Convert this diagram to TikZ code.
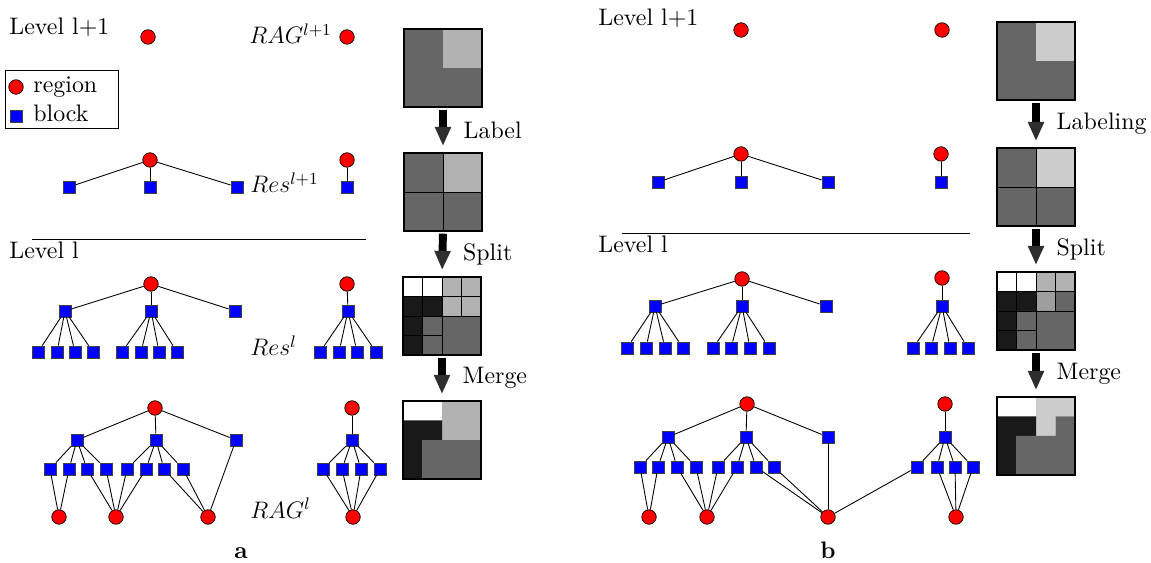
\RequirePackage{fix-cm}
\documentclass[tikz,border=0pt]{standalone}
\usepackage{fontspec}
\setmainfont{lmroman10-regular}[Extension=.otf, BoldFont=lmroman10-bold, ItalicFont=lmroman10-italic]
\usetikzlibrary{arrows.meta}
\definecolor{imgblack}{gray}{0.1}
\definecolor{imgdark}{gray}{0.4}
\definecolor{imgmid}{gray}{0.62}
\definecolor{imglight}{gray}{0.7}
\definecolor{imglighter}{gray}{0.8}
\tikzset{
  region/.style={draw, circle, fill=red, inner sep=0pt, minimum size=0.29cm, line width=0.4pt},
  block/.style={draw=black!75, rectangle, fill=blue, inner sep=0pt, minimum size=0.24cm, line width=0.4pt},
  lbl/.style={inner sep=0pt, anchor=base west},
  picframe/.style={draw, rectangle, inner sep=0pt, minimum size=1.56cm, line width=0.7pt},
  bigarrow/.style={line width=4.5pt, shorten <=1.2pt, shorten >=4pt,
    -{Triangle[length=10.5pt, width=9.5pt, line width=0pt, color=black!82]}},
  steplabel/.style={inner sep=0pt, anchor=west, xshift=9.5pt}
}
\begin{document}
\begin{tikzpicture}[x=0.02cm, y=-0.02cm, line width=0.5pt, font=\fontsize{13.6}{16}\selectfont]
  \useasboundingbox (0,0) rectangle (1151,563);

  % ---- a ----
  \node (ALevelTop) [lbl] at (9,35) {Level l+1};
  \node (ARagTop) [lbl] at (249,44) {$RAG^{l+1}$};
  \node (A0) [region] at (148,37) {};
  \node (A0r) [region] at (347,37) {};

  % legend
  \draw (5,70) rectangle (118,128);
  \node (LegRegion) [region] at (16,87) {};
  \node (LegRegionTxt) [lbl] at (33,93) {region};
  \node (LegBlock) [block] at (16,116) {};
  \node (LegBlockTxt) [lbl] at (33,122) {block};

  % Res^{l+1}
  \node (AResTop) [lbl] at (250,193) {$Res^{l+1}$};
  \node (A1) [region] at (150,160) {};
  \foreach \x [count=\i] in {69,150,237} {
    \node (A1-\i) [block] at (\x,187) {};
    \draw (A1) -- (A1-\i);
  }
  \node (A1r) [region] at (347,160) {};
  \node (A1r-s) [block] at (347,187) {};
  \draw (A1r) -- (A1r-s);

  \draw (32,239) -- (366,239);
  \node (ALevel) [lbl] at (9,259) {Level l};

  % Res^l
  \node (ARes) [lbl] at (250,356) {$Res^{l}$};
  \node (A2) [region] at (151,284) {};
  \foreach \x [count=\i] in {65,151,235} {
    \node (A2-\i) [block] at (\x,311) {};
    \draw (A2) -- (A2-\i);
  }
  \foreach \x [count=\j] in {38,57,75,93} {
    \node (A2-1-\j) [block] at (\x,352) {};
    \draw (A2-1) -- (A2-1-\j);
  }
  \foreach \x [count=\j] in {122,141,159,177} {
    \node (A2-2-\j) [block] at (\x,352) {};
    \draw (A2-2) -- (A2-2-\j);
  }
  \node (A2r) [region] at (347,284) {};
  \node (A2r-s) [block] at (348,311) {};
  \draw (A2r) -- (A2r-s);
  \foreach \x [count=\j] in {320,339,357,376} {
    \node (A2r-\j) [block] at (\x,352) {};
    \draw (A2r-s) -- (A2r-\j);
  }

  % RAG^l
  \node (ARag) [lbl] at (250,518) {$RAG^{l}$};
  \node (A3) [region] at (155,408) {};
  \foreach \x [count=\i] in {77,156,236} {
    \node (A3-\i) [block] at (\x,440) {};
    \draw (A3) -- (A3-\i);
  }
  \foreach \x [count=\j] in {50,69,87,106} {
    \node (A3-1-\j) [block] at (\x,469) {};
    \draw (A3-1) -- (A3-1-\j);
  }
  \foreach \x [count=\j] in {127,146,164,183} {
    \node (A3-2-\j) [block] at (\x,469) {};
    \draw (A3-2) -- (A3-2-\j);
  }
  \node (A3-x) [region] at (59,517) {};
  \node (A3-y) [region] at (116,517) {};
  \node (A3-z) [region] at (208,517) {};
  \foreach \n in {A3-1-1,A3-1-2} \draw (\n) -- (A3-x);
  \foreach \n in {A3-1-3,A3-1-4,A3-2-1,A3-2-2} \draw (\n) -- (A3-y);
  \foreach \n in {A3-2-3,A3-2-4,A3-3} \draw (\n) -- (A3-z);
  \node (A3r) [region] at (352,408) {};
  \node (A3r-s) [block] at (352,440) {};
  \node (A3r-x) [region] at (353,517) {};
  \draw (A3r) -- (A3r-s);
  \foreach \x [count=\j] in {323,342,361,380} {
    \node (A3r-\j) [block] at (\x,469) {};
    \draw (A3r-s) -- (A3r-\j);
    \draw (A3r-\j) -- (A3r-x);
  }
  \node (ATag) [anchor=base] at (241,558) {\textbf{a}};

  % images a
  \begin{scope}[shift={(404,29)}, x=0.39cm, y=-0.39cm]
    \fill[imgdark] (0,0) rectangle (4,4);
    \fill[imglight] (2,0) rectangle (4,2);
    \node (ImgA1) [picframe] at (2,2) {};
  \end{scope}
  \begin{scope}[shift={(404,153)}, x=0.39cm, y=-0.39cm]
    \fill[imgdark] (0,0) rectangle (4,4);
    \fill[imglight] (2,0) rectangle (4,2);
    \draw (2,0) -- (2,4) (0,2) -- (4,2);
    \node (ImgA2) [picframe] at (2,2) {};
  \end{scope}
  \begin{scope}[shift={(403,277)}, x=0.39cm, y=-0.39cm]
    \fill[white] (0,0) rectangle (2,1);
    \fill[imglight] (2,0) rectangle (4,2);
    \fill[imgblack] (0,1) rectangle (2,2) (0,2) rectangle (1,4);
    \fill[imgdark] (1,2) rectangle (4,4);
    \foreach \k in {1,3} \draw (\k,0) -- (\k,2);
    \draw (1,2) -- (1,4) (2,0) -- (2,4) (0,1) -- (4,1) (0,2) -- (4,2) (0,3) -- (2,3);
    \node (ImgA3) [picframe] at (2,2) {};
  \end{scope}
  \begin{scope}[shift={(403,401)}, x=0.39cm, y=-0.39cm]
    \fill[white] (0,0) rectangle (2,1);
    \fill[imglight] (2,0) rectangle (4,2);
    \fill[imgblack] (0,1) rectangle (2,2) (0,2) rectangle (1,4);
    \fill[imgdark] (1,2) rectangle (4,4);
    \node (ImgA4) [picframe] at (2,2) {};
  \end{scope}
  \draw[bigarrow] (ImgA1.south) -- (ImgA2.north) node[steplabel, midway] {Label};
  \draw[bigarrow] (ImgA2.south) -- (ImgA3.north) node[steplabel, midway] {Split};
  \draw[bigarrow] (ImgA3.south) -- (ImgA4.north) node[steplabel, midway] {Merge};

  % ---- b ----
  \node (BLevelTop) [lbl] at (598,26) {Level l+1};
  \node (B0) [region] at (741,30) {};
  \node (B0r) [region] at (942,30) {};

  \node (B1) [region] at (741,154) {};
  \foreach \x [count=\i] in {658,741,828} {
    \node (B1-\i) [block] at (\x,182) {};
    \draw (B1) -- (B1-\i);
  }
  \node (B1r) [region] at (941,154) {};
  \node (B1r-s) [block] at (941,182) {};
  \draw (B1r) -- (B1r-s);

  \draw (622,233) -- (970,233);
  \node (BLevel) [lbl] at (598,253) {Level l};

  \node (B2) [region] at (742,279) {};
  \foreach \x [count=\i] in {655,742,826} {
    \node (B2-\i) [block] at (\x,306) {};
    \draw (B2) -- (B2-\i);
  }
  \foreach \x [count=\j] in {627,646,665,683} {
    \node (B2-1-\j) [block] at (\x,348) {};
    \draw (B2-1) -- (B2-1-\j);
  }
  \foreach \x [count=\j] in {713,731,750,769} {
    \node (B2-2-\j) [block] at (\x,348) {};
    \draw (B2-2) -- (B2-2-\j);
  }
  \node (B2r) [region] at (942,278) {};
  \node (B2r-s) [block] at (942,306) {};
  \draw (B2r) -- (B2r-s);
  \foreach \x [count=\j] in {913,931,950,968} {
    \node (B2r-\j) [block] at (\x,348) {};
    \draw (B2r-s) -- (B2r-\j);
  }

  \node (B3) [region] at (747,404) {};
  \foreach \x [count=\i] in {668,746,828} {
    \node (B3-\i) [block] at (\x,437) {};
    \draw (B3) -- (B3-\i);
  }
  \foreach \x [count=\j] in {640,658,677,696} {
    \node (B3-1-\j) [block] at (\x,467) {};
    \draw (B3-1) -- (B3-1-\j);
  }
  \foreach \x [count=\j] in {718,737,756,774} {
    \node (B3-2-\j) [block] at (\x,467) {};
    \draw (B3-2) -- (B3-2-\j);
  }
  \node (B3r) [region] at (945,404) {};
  \node (B3r-s) [block] at (945,437) {};
  \draw (B3r) -- (B3r-s);
  \foreach \x [count=\j] in {917,937,955,973} {
    \node (B3r-\j) [block] at (\x,467) {};
    \draw (B3r-s) -- (B3r-\j);
  }
  \node (B3-x) [region] at (649,517) {};
  \node (B3-y) [region] at (707,517) {};
  \node (B3-z) [region] at (828,517) {};
  \node (B3r-x) [region] at (956,517) {};
  \foreach \n in {B3-1-1,B3-1-2} \draw (\n) -- (B3-x);
  \foreach \n in {B3-1-3,B3-1-4,B3-2-1,B3-2-2} \draw (\n) -- (B3-y);
  \foreach \n in {B3-2-3,B3-2-4,B3-3,B3r-1} \draw (\n) -- (B3-z);
  \foreach \n in {B3r-2,B3r-3,B3r-4} \draw (\n) -- (B3r-x);
  \node (BTag) [anchor=base] at (828,558) {\textbf{b}};

  % images b
  \begin{scope}[shift={(997,22)}, x=0.39cm, y=-0.39cm]
    \fill[imgdark] (0,0) rectangle (4,4);
    \fill[imglighter] (2,0) rectangle (4,2);
    \node (ImgB1) [picframe] at (2,2) {};
  \end{scope}
  \begin{scope}[shift={(997,148)}, x=0.39cm, y=-0.39cm]
    \fill[imgdark] (0,0) rectangle (4,4);
    \fill[imglighter] (2,0) rectangle (4,2);
    \draw (2,0) -- (2,4) (0,2) -- (4,2);
    \node (ImgB2) [picframe] at (2,2) {};
  \end{scope}
  \begin{scope}[shift={(997,272)}, x=0.39cm, y=-0.39cm]
    \fill[white] (0,0) rectangle (2,1);
    \fill[imglight] (2,0) rectangle (4,1);
    \fill[imgmid] (2,1) rectangle (3,2);
    \fill[imgblack] (0,1) rectangle (2,2) (0,2) rectangle (1,4);
    \fill[imgdark] (3,1) rectangle (4,2) (1,2) rectangle (4,4);
    \foreach \k in {1,3} \draw (\k,0) -- (\k,2);
    \draw (1,2) -- (1,4) (2,0) -- (2,4) (0,1) -- (4,1) (0,2) -- (4,2) (0,3) -- (2,3);
    \node (ImgB3) [picframe] at (2,2) {};
  \end{scope}
  \begin{scope}[shift={(997,397)}, x=0.39cm, y=-0.39cm]
    \fill[white] (0,0) rectangle (2,1);
    \fill[imglighter] (2,0) rectangle (4,1) (2,1) rectangle (3,2);
    \fill[imgblack] (0,1) rectangle (2,2) (0,2) rectangle (1,4);
    \fill[imgdark] (3,1) rectangle (4,2) (1,2) rectangle (4,4);
    \node (ImgB4) [picframe] at (2,2) {};
  \end{scope}
  \draw[bigarrow] (ImgB1.south) -- (ImgB2.north) node[steplabel, midway] {Labeling};
  \draw[bigarrow] (ImgB2.south) -- (ImgB3.north) node[steplabel, midway] {Split};
  \draw[bigarrow] (ImgB3.south) -- (ImgB4.north) node[steplabel, midway] {Merge};
\end{tikzpicture}
\end{document}
